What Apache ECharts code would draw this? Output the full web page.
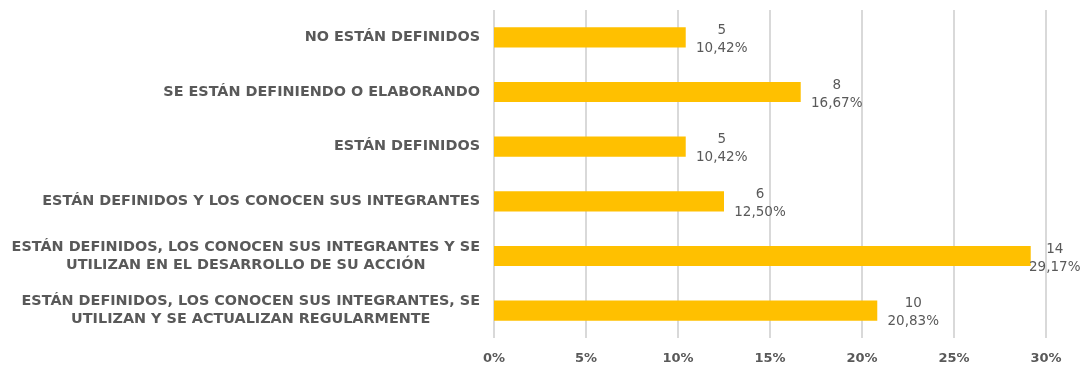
<!DOCTYPE html>
<html>
<head>
<meta charset="utf-8">
<style>
  html, body { margin: 0; padding: 0; background: #fff; }
  #chart { width: 1083px; height: 366px; }
</style>
<script src="https://cdn.jsdelivr.net/npm/echarts@6/dist/echarts.min.js"></script>
</head>
<body>
<div id="chart"></div>
<script>
// Categories listed bottom-to-top (ECharts category axis draws the first item at the bottom)
const categories = [
  'ESTÁN DEFINIDOS, LOS CONOCEN SUS INTEGRANTES, SE\nUTILIZAN Y SE ACTUALIZAN REGULARMENTE',
  'ESTÁN DEFINIDOS, LOS CONOCEN SUS INTEGRANTES Y SE\nUTILIZAN EN EL DESARROLLO DE SU ACCIÓN',
  'ESTÁN DEFINIDOS Y LOS CONOCEN SUS INTEGRANTES',
  'ESTÁN DEFINIDOS',
  'SE ESTÁN DEFINIENDO O ELABORANDO',
  'NO ESTÁN DEFINIDOS'
];
const counts = [10, 14, 6, 5, 8, 5];
const percents = [20.83, 29.17, 12.50, 10.42, 16.67, 10.42];
const tickLabels = ['0%', '5%', '10%', '15%', '20%', '25%', '30%'];

const textColor = '#595959';
const fontFamily = '"DejaVu Sans", sans-serif';
const maxPct = Math.max(...percents);

const chart = echarts.init(document.getElementById('chart'), null, { renderer: 'canvas' });

const seriesData = percents.map((p, i) => {
  const item = { value: p };
  // the longest bar's label is pulled in so it stays inside the canvas
  if (p === maxPct) item.label = { distance: 24 };
  return item;
});

chart.setOption({
  animation: false,
  grid: { left: 494, right: 37, top: 10, bottom: 28, containLabel: false },
  xAxis: {
    type: 'value',
    min: 0,
    max: 30,
    interval: 5,
    axisLine: { show: false },
    axisTick: { show: false },
    splitLine: { show: true, lineStyle: { color: '#d9d9d9', width: 2 } },
    axisLabel: {
      color: textColor,
      fontFamily: fontFamily,
      fontWeight: 'bold',
      fontSize: 13,
      margin: 14,
      formatter: (v) => tickLabels[Math.round(v / 5)]
    }
  },
  yAxis: {
    type: 'category',
    data: categories,
    axisLine: { show: false },
    axisTick: { show: false },
    axisLabel: {
      margin: 14,
      // each line is its own rich token so wrapped lines are centred within the block
      formatter: (v) => v.split('\n').map((s) => '{c|' + s + '}').join('\n'),
      rich: {
        c: {
          align: 'center',
          color: textColor,
          fontFamily: fontFamily,
          fontWeight: 'bold',
          fontSize: 14.4,
          lineHeight: 18
        }
      }
    }
  },
  series: [{
    type: 'bar',
    data: seriesData,
    barWidth: '37%',
    itemStyle: { color: '#FFC000' },
    label: {
      show: true,
      position: 'right',
      distance: 36,
      align: 'center',
      verticalAlign: 'middle',
      offset: [0, 2],
      color: textColor,
      fontFamily: fontFamily,
      fontSize: 13.5,
      lineHeight: 18,
      formatter: (p) => counts[p.dataIndex] + '\n' +
        percents[p.dataIndex].toFixed(2).replace('.', ',') + '%'
    }
  }]
});
</script>
</body>
</html>
